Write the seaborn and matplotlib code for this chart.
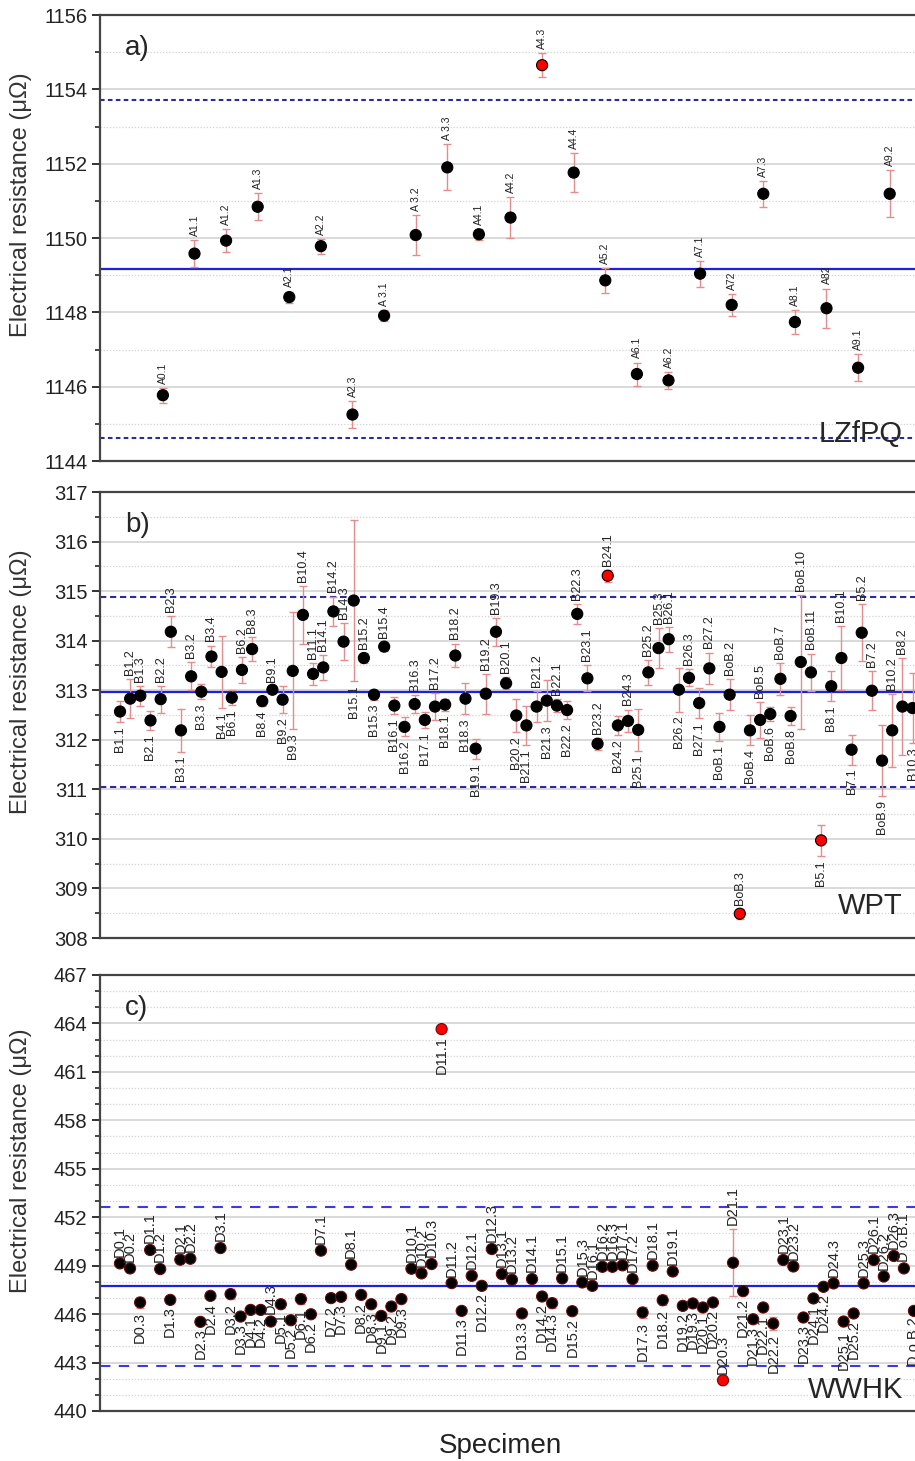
import numpy as np
import pandas as pd
import matplotlib
matplotlib.use('Agg')
import matplotlib.pyplot as plt
from matplotlib.ticker import MultipleLocator
import seaborn as sns

# ===================== data =====================
# panel a) LZfPQ
a_labels = ['A0.1', 'A1.1', 'A1.2', 'A1.3', 'A2.1', 'A2.2', 'A2.3', 'A 3.1', 'A 3.2', 'A 3.3',
            'A4.1', 'A4.2', 'A4.3', 'A4.4', 'A5.2', 'A6.1', 'A6.2', 'A7.1', 'A72', 'A7.3',
            'A8.1', 'A82', 'A9.1', 'A9.2']
a_values = [1145.77, 1149.58, 1149.93, 1150.84, 1148.41, 1149.78, 1145.25, 1147.91, 1150.08, 1151.90,
            1150.10, 1150.55, 1154.65, 1151.76, 1148.86, 1146.34, 1146.17, 1149.04, 1148.20, 1151.19,
            1147.74, 1148.11, 1146.51, 1151.19]
a_errors = [0.20, 0.37, 0.30, 0.36, 0.15, 0.20, 0.36, 0.15, 0.54, 0.62,
            0.15, 0.55, 0.33, 0.52, 0.34, 0.31, 0.22, 0.35, 0.29, 0.35,
            0.31, 0.53, 0.36, 0.63]
a_sides = ['u'] * 24
a_mean = 1149.17
a_band = 4.55
a_ticks = [1144, 1146, 1148, 1150, 1152, 1154, 1156]

# panel b) WPT
b_labels = ['B1.1', 'B1.2', 'B1.3', 'B2.1', 'B2.2', 'B2.3', 'B3.1', 'B3.2', 'B3.3', 'B3.4',
            'B4.1', 'B6.1', 'B6.2', 'B8.3', 'B8.4', 'B9.1', 'B9.2', 'B9.3', 'B10.4', 'B11.1',
            'B14.1', 'B14.2', 'B14.3', 'B15.1', 'B15.2', 'B15.3', 'B15.4', 'B16.1', 'B16.2', 'B16.3',
            'B17.1', 'B17.2', 'B18.1', 'B18.2', 'B18.3', 'B19.1', 'B19.2', 'B19.3', 'B20.1', 'B20.2',
            'B21.1', 'B21.2', 'B21.3', 'B22.1', 'B22.2', 'B22.3', 'B23.1', 'B23.2', 'B24.1', 'B24.2',
            'B24.3', 'B25.1', 'B25.2', 'B25.3', 'B26.1', 'B26.2', 'B26.3', 'B27.1', 'B27.2', 'BoB.1',
            'BoB.2', 'BoB.3', 'BoB.4', 'BoB.5', 'BoB.6', 'BoB.7', 'BoB.8', 'BoB.10', 'BoB.11', 'B5.1',
            'B8.1', 'B10.1', 'B7.1', 'B5.2', 'B7.2', 'BoB.9', 'B10.2', 'B8.2', 'B10.3']
b_values = [312.57, 312.83, 312.89, 312.39, 312.82, 314.18, 312.19, 313.28, 312.97, 313.68,
            313.37, 312.85, 313.41, 313.83, 312.78, 313.01, 312.81, 313.39, 314.52, 313.33,
            313.46, 314.59, 313.98, 314.81, 313.65, 312.91, 313.88, 312.69, 312.26, 312.72,
            312.40, 312.67, 312.71, 313.70, 312.83, 311.82, 312.93, 314.18, 313.14, 312.49,
            312.29, 312.67, 312.79, 312.69, 312.60, 314.54, 313.24, 311.92, 315.31, 312.29,
            312.38, 312.20, 313.36, 313.85, 314.03, 313.01, 313.25, 312.74, 313.44, 312.26,
            312.91, 308.49, 312.19, 312.40, 312.52, 313.23, 312.48, 313.57, 313.36, 309.97,
            313.08, 313.65, 311.80, 314.16, 312.99, 311.58, 312.19, 312.67, 312.64]
b_errors = [0.22, 0.39, 0.20, 0.20, 0.27, 0.31, 0.43, 0.28, 0.15, 0.22,
            0.73, 0.15, 0.26, 0.25, 0.10, 0.07, 0.27, 1.18, 0.58, 0.22,
            0.25, 0.30, 0.38, 1.63, 0.10, 0.10, 0.08, 0.17, 0.19, 0.18,
            0.16, 0.27, 0.12, 0.24, 0.31, 0.20, 0.40, 0.28, 0.12, 0.34,
            0.39, 0.32, 0.41, 0.13, 0.19, 0.20, 0.26, 0.12, 0.12, 0.19,
            0.23, 0.42, 0.25, 0.40, 0.25, 0.44, 0.17, 0.30, 0.32, 0.28,
            0.31, 0.10, 0.30, 0.36, 0.15, 0.32, 0.18, 1.35, 0.38, 0.32,
            0.30, 0.64, 0.30, 0.58, 0.39, 0.72, 0.74, 0.98, 0.70]
b_sides = ['d', 'u', 'u', 'd', 'u', 'u', 'd', 'u', 'd', 'u',
           'd', 'd', 'u', 'u', 'd', 'u', 'd', 'd', 'u', 'u',
           'u', 'u', 'u', 'd', 'u', 'd', 'u', 'd', 'd', 'u',
           'd', 'u', 'd', 'u', 'd', 'd', 'u', 'u', 'u', 'd',
           'd', 'u', 'd', 'u', 'd', 'u', 'u', 'u', 'u', 'd',
           'u', 'd', 'u', 'u', 'u', 'd', 'u', 'd', 'u', 'd',
           'u', 'u', 'd', 'u', 'd', 'u', 'd', 'u', 'u', 'd',
           'd', 'u', 'd', 'u', 'u', 'd', 'u', 'u', 'd']
b_mean = 312.96
b_band = 1.92
b_ticks = [308, 309, 310, 311, 312, 313, 314, 315, 316, 317]

# panel c) WWHK
c_labels = ['D0.1', 'D0.2', 'D0.3', 'D1.1', 'D1.2', 'D1.3', 'D2.1', 'D2.2', 'D2.3', 'D2.4',
            'D3.1', 'D3.2', 'D3.3', 'D4.1', 'D4.2', 'D4.3', 'D5.1', 'D5.2', 'D6.1', 'D6.2',
            'D7.1', 'D7.2', 'D7.3', 'D8.1', 'D8.2', 'D8.3', 'D9.1', 'D9.2', 'D9.3', 'D10.1',
            'D10.2', 'D10.3', 'D11.1', 'D11.2', 'D11.3', 'D12.1', 'D12.2', 'D12.3', 'D13.1', 'D13.2',
            'D13.3', 'D14.1', 'D14.2', 'D14.3', 'D15.1', 'D15.2', 'D15.3', 'D16.1', 'D16.2', 'D16.3',
            'D17.1', 'D17.2', 'D17.3', 'D18.1', 'D18.2', 'D19.1', 'D19.2', 'D19.3', 'D20.1', 'D20.2',
            'D20.3', 'D21.1', 'D21.2', 'D21.3', 'D22.1', 'D22.2', 'D23.1', 'D23.2', 'D23.3', 'D24.1',
            'D24.2', 'D24.3', 'D25.1', 'D25.2', 'D25.3', 'D26.1', 'D26.2', 'D26.3', 'D o.B.1', 'D o.B.2']
c_values = [449.14, 448.83, 446.72, 449.97, 448.79, 446.88, 449.37, 449.43, 445.52, 447.13,
            450.09, 447.24, 445.85, 446.26, 446.26, 445.54, 446.61, 445.62, 446.93, 445.99,
            449.93, 446.99, 447.07, 449.06, 447.19, 446.61, 445.89, 446.47, 446.93, 448.81,
            448.52, 449.10, 463.65, 447.92, 446.20, 448.37, 447.75, 450.03, 448.48, 448.13,
            446.04, 448.17, 447.09, 446.68, 448.21, 446.18, 447.96, 447.75, 448.93, 448.93,
            449.02, 448.17, 446.10, 449.00, 446.86, 448.64, 446.51, 446.66, 446.41, 446.72,
            441.90, 449.18, 447.42, 445.68, 446.41, 445.41, 449.35, 448.95, 445.79, 446.97,
            447.69, 447.90, 445.54, 446.04, 447.90, 449.35, 448.33, 449.60, 448.83, 446.20]
c_errors = [0.15, 0.15, 0.35, 0.15, 0.15, 0.15, 0.15, 0.15, 0.15, 0.20,
            0.15, 0.30, 0.15, 0.15, 0.15, 0.20, 0.25, 0.15, 0.30, 0.15,
            0.15, 0.20, 0.15, 0.15, 0.20, 0.15, 0.15, 0.15, 0.15, 0.15,
            0.15, 0.15, 0.15, 0.15, 0.15, 0.15, 0.15, 0.15, 0.15, 0.15,
            0.15, 0.15, 0.15, 0.30, 0.15, 0.15, 0.15, 0.15, 0.15, 0.15,
            0.15, 0.15, 0.35, 0.15, 0.30, 0.15, 0.15, 0.15, 0.15, 0.15,
            0.15, 2.07, 0.15, 0.15, 0.20, 0.40, 0.15, 0.15, 0.15, 0.15,
            0.15, 0.15, 0.30, 0.15, 0.15, 0.15, 0.15, 0.15, 0.15, 0.15]
c_sides = ['u', 'u', 'd', 'u', 'u', 'd', 'u', 'u', 'd', 'd',
           'u', 'd', 'd', 'd', 'd', 'u', 'd', 'd', 'd', 'd',
           'u', 'd', 'd', 'u', 'd', 'd', 'd', 'd', 'd', 'u',
           'u', 'u', 'd', 'u', 'd', 'u', 'd', 'u', 'u', 'u',
           'd', 'u', 'd', 'd', 'u', 'd', 'u', 'u', 'u', 'u',
           'u', 'u', 'd', 'u', 'd', 'u', 'd', 'd', 'd', 'd',
           'u', 'u', 'd', 'd', 'd', 'd', 'u', 'u', 'd', 'd',
           'd', 'u', 'd', 'd', 'u', 'u', 'u', 'u', 'u', 'd']
c_mean = 447.72
c_band = 4.94
c_ticks = [440, 443, 446, 449, 452, 455, 458, 461, 464, 467]

# ===================== style =====================
sns.set_theme(style="white")
plt.rcParams['font.family'] = ['Liberation Sans', 'DejaVu Sans']

fig = plt.figure(figsize=(9.15, 14.61), dpi=100)

L = 100 / 915
W = 0.90


def draw_panel(rect, labels, values, errors, sides, mean, band, ticks, minor,
               xlim, tag, name, name_y, label_fs, dash, marker_edge):
    ax = fig.add_axes(rect)
    df = pd.DataFrame({'pos': np.arange(len(values)), 'value': values, 'err': errors,
                       'label': labels, 'side': sides})
    df['outlier'] = (df['value'] > mean + band) | (df['value'] < mean - band)

    # grid: solid at labelled ticks, dotted in between
    ax.set_yticks(ticks)
    ax.yaxis.set_minor_locator(MultipleLocator(minor))
    ax.grid(which='major', axis='y', color='#cfcfcf', lw=1.1, zorder=0)
    ax.grid(which='minor', axis='y', color='#d2d2d2', lw=0.9, ls=(0, (1, 1.5)), zorder=0)
    ax.set_axisbelow(True)

    # mean and limits
    ax.axhline(mean, color='#1f1fe0', lw=1.6, zorder=1)
    for k in (-1, 1):
        ax.axhline(mean + k * band, color=dash[0], lw=1.5, ls=dash[1], zorder=1)

    ax.errorbar(df['pos'], df['value'], yerr=df['err'], fmt='none', ecolor='#e28e8e',
                elinewidth=1.0, capsize=3, capthick=1.0, zorder=2)
    sns.scatterplot(data=df, x='pos', y='value', hue='outlier',
                    palette={False: 'black', True: '#ff0000'}, s=64,
                    edgecolor=marker_edge, linewidth=0.8, legend=False, ax=ax, zorder=3)

    for _, r in df.iterrows():
        if r['side'] == 'u':
            ax.annotate(r['label'], (r['pos'], r['value'] + r['err']), xytext=(0, 3),
                        textcoords='offset points', rotation=90, ha='center', va='bottom',
                        fontsize=label_fs, color='#222222')
        else:
            ax.annotate(r['label'], (r['pos'], r['value'] - r['err']), xytext=(0, -3),
                        textcoords='offset points', rotation=90, ha='center', va='top',
                        fontsize=label_fs, color='#222222')

    ax.set_xlim(*xlim)
    ax.set_ylim(ticks[0], ticks[-1])
    ax.set_xticks([])
    ax.set_xlabel('')
    ax.set_ylabel('Electrical resistance (μΩ)', fontsize=17, color='#333333')
    ax.yaxis.set_label_coords(-0.082, 0.575)
    ax.tick_params(axis='y', which='major', direction='out', length=6, width=1.3,
                   labelsize=14.5, colors='#222222', left=True, pad=3)
    ax.tick_params(axis='y', which='minor', direction='out', length=3.5, width=1.2, left=True)
    for s in ('left', 'top', 'bottom'):
        ax.spines[s].set_color('#444444')
        ax.spines[s].set_linewidth(1.6)
    ax.spines['right'].set_visible(False)

    ax.text(0.03, 0.955, tag, transform=ax.transAxes, fontsize=20, va='top', ha='left')
    ax.text(0.975, name_y, name, transform=ax.transAxes, fontsize=21, va='bottom', ha='right')
    return ax


draw_panel([L, 1 - 461 / 1461, W, 446 / 1461], a_labels, a_values, a_errors, a_sides,
           a_mean, a_band, a_ticks, 1, (-1.99, 24.07), 'a)', 'LZfPQ', 0.03, 7.5,
           ('#2b2b9c', (0, (2.2, 1.6))), 'black')
draw_panel([L, 1 - 938 / 1461, W, 446 / 1461], b_labels, b_values, b_errors, b_sides,
           b_mean, b_band, b_ticks, 0.5, (-1.97, 79.08), 'b)', 'WPT', 0.04, 9,
           ('#2b2b9c', (0, (3, 1.8))), 'black')
draw_panel([L, 1 - 1411 / 1461, W, 436 / 1461], c_labels, c_values, c_errors, c_sides,
           c_mean, c_band, c_ticks, 1, (-1.99, 79.95), 'c)', 'WWHK', 0.015, 10.5,
           ('#3b3be0', (0, (5, 4))), '#6a0a0a')

fig.text(500 / 915, 1 - 1446 / 1461, 'Specimen', fontsize=20, ha='center', va='center',
         color='#222222')

fig.savefig('out.png', dpi=100)
